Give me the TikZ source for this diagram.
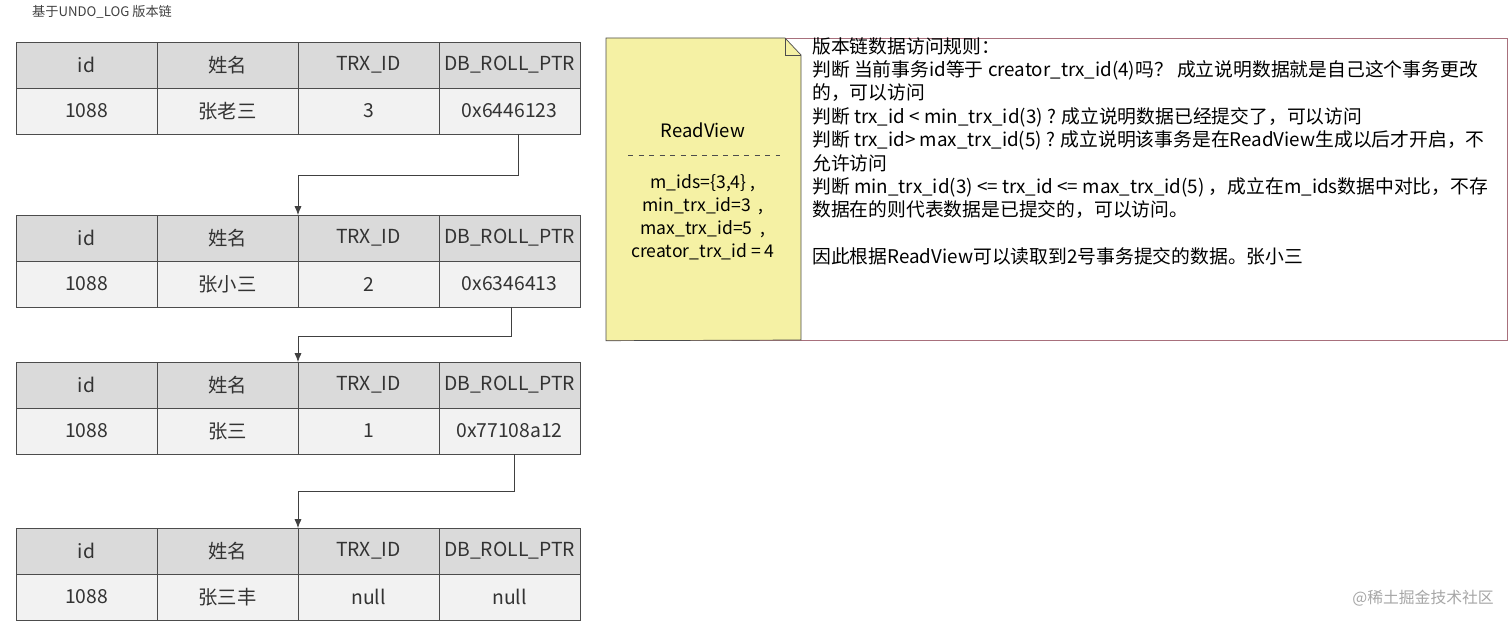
\documentclass[tikz,border=0pt]{standalone}
\usepackage{fontspec}
\setmainfont{Noto Sans CJK SC}
\usetikzlibrary{positioning}
\definecolor{HeadGray}{HTML}{DADADA}
\definecolor{RowGray}{HTML}{F2F2F2}
\definecolor{NoteYellow}{HTML}{F5F1A4}
\definecolor{FrameRed}{HTML}{A8707C}

\tikzset{
  cell/.style={draw=black!70, minimum width=141*0.02cm, minimum height=46*0.02cm,
    inner sep=0pt, outer sep=0pt, font=\fontsize{11}{13}\selectfont, text=black!80},
  headcell/.style={cell, fill=HeadGray},
  rowcell/.style={cell, fill=RowGray},
  link/.style={draw=black!75, -{Latex[length=5pt,width=4pt]}}
}
\usetikzlibrary{arrows.meta}

\begin{document}
\begin{tikzpicture}[x=0.02cm, y=-0.02cm]

        \useasboundingbox (0,0) rectangle (1512,628);
        \node[anchor=west, font=\fontsize{7.5}{10}\selectfont, text=black!75] (title) at (26,12) {基于UNDO\_LOG 版本链};

        % version chain tables
        \foreach \t/\ty/\name/\trx/\ptr in {1/65/张老三/3/0x6446123, 2/238/张小三/2/0x6346413,
                                           3/385/张三/1/0x77108a12, 4/551/张三丰/null/null} {
          \node[headcell] (t\t h1) at (86.5,\ty) {id};
          \node[headcell, right=0pt of t\t h1] (t\t h2) {姓名};
          \node[headcell, right=0pt of t\t h2] (t\t h3) {TRX\_ID};
          \node[headcell, right=0pt of t\t h3] (t\t h4) {DB\_ROLL\_PTR};
          \node[rowcell, below=0pt of t\t h1] (t\t r1) {1088};
          \node[rowcell, below=0pt of t\t h2] (t\t r2) {\name};
          \node[rowcell, below=0pt of t\t h3] (t\t r3) {\trx};
          \node[rowcell, below=0pt of t\t h4] (t\t r4) {\ptr};
        }

        \draw[link] ([xshift=5]t1r4.south) -- ++(0,41) -| (t2h3.north west);
        \draw[link] ([xshift=1]t2r4.south) -- ++(0,29) -| (t3h3.north west);
        \draw[link] ([xshift=3]t3r4.south) -- ++(0,37) -| (t4h3.north west);

        % read view note
        \node[draw=FrameRed, minimum width=901*0.02cm, minimum height=302*0.02cm,
              anchor=north west, inner sep=0pt] (frame) at (606,38) {};
        \coordinate (fold) at (801,55);
        \fill[NoteYellow, draw=black!70] (frame.north west) -- (785,38) -- (fold)
             -- (801,340) -- (frame.south west) -- cycle;
        \draw[black!70] (785,38) -- (785,55) -- (fold);
        \node[font=\fontsize{10.5}{12}\selectfont] (rvtitle) at (703,130) {ReadView};
        \draw[black!70, dashed] (628,155) -- (780,155);
        \node[align=center, font=\fontsize{10}{13.2}\selectfont, anchor=north] (rvbody) at (703,168)
          {m\_ids=\{3,4\} ,\\min\_trx\_id=3\ \ ,\\max\_trx\_id=5\ \ ,\\creator\_trx\_id = 4};

        % access rules
        \node[anchor=north west, align=left, inner sep=0pt, font=\fontsize{10.7}{13.3}\selectfont] (rules) at (812,37)
          {版本链数据访问规则：\\
           判断 当前事务id等于 creator\_trx\_id(4)吗？ 成立说明数据就是自己这个事务更改\\
           的，可以访问\\
           判断 trx\_id < min\_trx\_id(3) ? 成立说明数据已经提交了，可以访问\\
           判断 trx\_id> max\_trx\_id(5) ? 成立说明该事务是在ReadView生成以后才开启，不\\
           允许访问\\
           判断 min\_trx\_id(3) <= trx\_id <= max\_trx\_id(5) ，成立在m\_ids数据中对比，不存\\
           数据在的则代表数据是已提交的，可以访问。\\[13.3pt]
           因此根据ReadView可以读取到2号事务提交的数据。张小三};

        \node[anchor=east, text=black!35, font=\fontsize{9}{11}\selectfont] (mark) at (1500,598) {@稀土掘金技术社区};

    \end{tikzpicture}
\end{document}
